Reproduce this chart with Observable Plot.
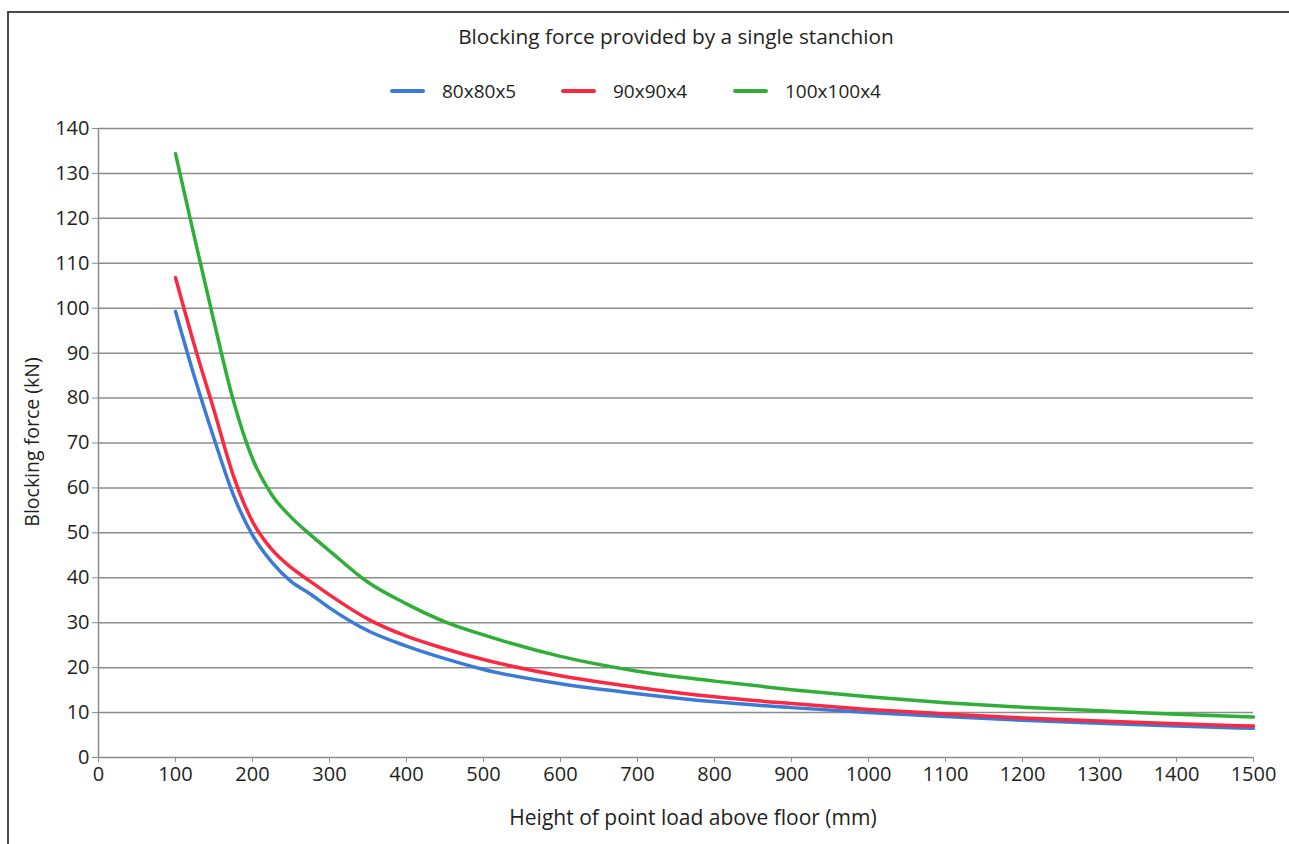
<!DOCTYPE html>
<html>
<head>
<meta charset="utf-8">
<script src="https://cdn.jsdelivr.net/npm/d3@7"></script>
<script src="https://cdn.jsdelivr.net/npm/@observablehq/plot@0.6"></script>
<style>
  html, body { margin: 0; padding: 0; background: #fff; }
  body { width: 1289px; height: 844px; position: relative; overflow: hidden; font-family: "Open Sans", sans-serif; color: #231f20; }
  #frame { position: absolute; left: 7px; top: 11px; width: 1300px; height: 900px; border-left: 2px solid #4a4a4a; border-top: 2px solid #4a4a4a; box-sizing: border-box; }
  #title { position: absolute; top: 22px; left: 0; width: 1352px; text-align: center; font-size: 20.8px; }
  .leg { position: absolute; top: 80px; height: 22px; display: flex; align-items: center; font-size: 19px; }
  .leg svg { margin-right: 17px; }
  #plot { position: absolute; left: 0; top: 110px; }
  #xlabel { position: absolute; top: 803px; left: 0; width: 1386px; text-align: center; font-size: 21px; }
  #ylabel { position: absolute; left: 31px; top: 442px; transform: translate(-50%, -50%) rotate(-90deg); white-space: nowrap; font-size: 19.5px; }
</style>
</head>
<body>
<div id="frame"></div>
<div id="title">Blocking force provided by a single stanchion</div>
<div id="legend"></div>
<div id="plot"></div>
<div id="xlabel">Height of point load above floor (mm)</div>
<div id="ylabel">Blocking force (kN)</div>
<script>
// Data
const heights = [100,125,150,175,200,225,250,275,300,350,400,450,500,600,700,800,900,1000,1100,1200,1300,1400,1500];
const s80x80x5  = [99.3,84.5,71,58.5,49.5,43.5,39.2,36.4,33.3,28.2,24.8,22,19.6,16.4,14.2,12.4,11.1,10.0,9.1,8.3,7.6,7.0,6.5];
const s90x90x4  = [106.8,91.5,77.3,62.8,52.5,46.3,42.3,39.2,36.2,30.8,27,24.2,21.8,18.2,15.6,13.5,12.0,10.7,9.7,8.8,8.1,7.5,7.0];
const s100x100x4 = [134.4,115.5,97,79.5,66.5,58.5,53.5,49.6,46,39,34.2,30.2,27.3,22.5,19.2,17.0,15.1,13.5,12.2,11.2,10.4,9.6,9.0];
const seriesNames = ["80x80x5","90x90x4","100x100x4"];
const seriesColors = ["#3b7bd8","#fa2840","#2fae38"];
const xTicks = d3.range(0, 1501, 100);
const yTicks = d3.range(0, 141, 10);

const seriesValues = [s80x80x5, s90x90x4, s100x100x4];
const rows = seriesNames.flatMap((name, i) => heights.map((h, j) => ({series: name, x: h, y: seriesValues[i][j]})));

// legend
const legend = document.getElementById("legend");
const legLefts = [390, 561, 733];
seriesNames.forEach((n, i) => {
  const d = document.createElement("div");
  d.className = "leg";
  d.style.left = legLefts[i] + "px";
  d.innerHTML = `<svg width="35" height="6"><line x1="2" y1="3" x2="33" y2="3" stroke="${seriesColors[i]}" stroke-width="4" stroke-linecap="round"/></svg><span>${n}</span>`;
  legend.appendChild(d);
});

const chart = Plot.plot({
  width: 1289,
  height: 734,
  marginTop: 18,
  marginBottom: 87,
  marginLeft: 98,
  marginRight: 36,
  style: {fontFamily: "Open Sans", fontSize: "20px", color: "#231f20", background: "transparent", overflow: "visible"},
  x: {domain: [0, 1500]},
  y: {domain: [0, 140]},
  color: {domain: seriesNames, range: seriesColors},
  marks: [
    Plot.gridY(yTicks, {stroke: "#8c8c8c", strokeOpacity: 1, strokeWidth: 1.5}),
    Plot.ruleX([0], {y1: 0, y2: 140, stroke: "#8c8c8c", strokeWidth: 1.5}),
    Plot.axisY({ticks: yTicks, tickSize: 6, tickPadding: 3, stroke: "#8c8c8c", label: null, fontSize: 20, tickFormat: d3.format("d")}),
    Plot.axisX({ticks: xTicks, tickSize: 5, tickPadding: 4, stroke: "#8c8c8c", label: null, fontSize: 20, tickFormat: d3.format("d")}),
    Plot.line(rows, {x: "x", y: "y", z: "series", stroke: "series", strokeWidth: 3.5, curve: "monotone-x"})
  ]
});
document.getElementById("plot").appendChild(chart);
</script>
</body>
</html>
